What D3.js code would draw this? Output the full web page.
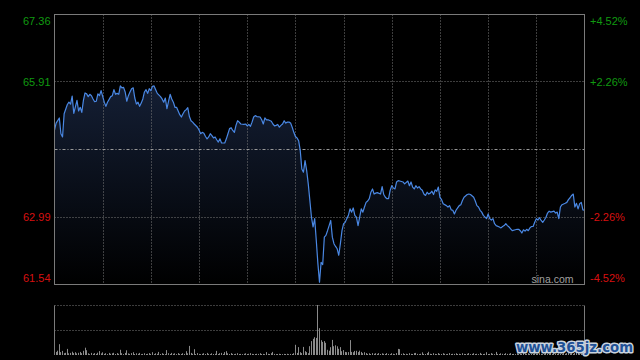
<!DOCTYPE html>
<html><head><meta charset="utf-8">
<script src="https://cdn.jsdelivr.net/npm/d3@7"></script>
<style>html,body{margin:0;padding:0;background:#000;overflow:hidden}svg{display:block}</style>
</head><body><svg id="c" width="640" height="360"></svg>
<script>
// minutes since 09:30 (HK session: 09:30-12:00, 13:00-16:00 => 330 trading minutes)
const minutes=[0,1,3,4,5,6,8,9,10,11,12,14,15,16,17,18,19,20,21,22,23,24,25,26,27,28,29,31,32,33,35,36,37,38,39,40,41,42,43,44,45,46,47,48,49,50,51,52,53,54,55,56,57,58,59,60,61,62,63,64,66,67,68,69,70,71,72,73,74,75,76,77,78,79,80,81,82,83,84,85,86,87,89,90,91,92,93,94,95,96,97,98,99,100,101,102,103,104,106,107,108,109,110,111,112,113,114,115,116,118,119,120,121,122,123,124,125,126,128,129,130,131,132,133,135,136,137,138,139,140,141,142,143,144,145,146,147,148,149,150,151,152,153,154,155,156,157,158,159,160,161,162,163,164,165,166,167,168,169,170,171,172,173,174,175,176,177,178,179,180,181,182,183,184,185,186,187,188,189,190,191,192,193,194,195,196,197,198,199,200,201,203,204,205,206,207,208,209,210,211,212,213,214,215,217,218,220,221,222,223,224,225,226,227,228,229,230,231,232,233,234,235,236,237,238,239,240,241,242,244,245,246,247,248,249,250,251,252,253,254,255,257,258,259,261,262,263,264,265,266,267,269,270,271,272,273,274,275,277,278,279,280,281,282,283,284,285,287,288,289,290,291,292,293,294,295,296,297,298,299,300,301,302,303,304,305,306,307,308,309,311,312,313,314,315,316,318,319,320,321,322,323,324,325,326,327,328,329,330];
const prices=[64.87,65.02,65.13,64.79,64.72,65.22,65.42,65.47,65.43,65.60,65.23,65.51,65.28,65.36,65.25,65.51,65.67,65.65,65.59,65.64,65.61,65.54,65.48,65.49,65.65,65.61,65.72,65.47,65.38,65.47,65.59,65.61,65.74,65.64,65.66,65.64,65.82,65.78,65.79,65.69,65.49,65.61,65.69,65.76,65.78,65.56,65.43,65.47,65.38,65.45,65.54,65.69,65.74,65.66,65.76,65.72,65.81,65.82,65.74,65.66,65.59,65.54,65.47,65.56,65.33,65.49,65.64,65.54,65.47,65.36,65.36,65.28,65.20,65.15,65.22,65.28,65.31,65.35,65.16,65.07,65.04,65.00,64.93,64.87,64.79,64.82,64.80,64.73,64.68,64.72,64.79,64.75,64.70,64.72,64.66,64.61,64.68,64.59,64.59,64.68,64.79,64.90,64.92,64.86,64.82,64.97,65.07,65.04,65.00,64.99,65.00,64.96,64.99,64.95,65.04,65.15,65.18,65.16,65.15,65.09,65.00,65.13,65.09,65.09,65.06,65.00,64.96,64.97,64.99,64.93,64.97,65.00,65.07,65.02,65.04,65.04,65.02,64.93,64.82,64.73,64.70,64.64,64.43,64.03,63.96,64.21,64.00,63.71,63.35,62.99,62.78,62.96,62.49,61.99,61.59,62.02,61.97,62.56,62.60,62.70,62.81,62.92,62.56,62.42,62.36,62.31,62.17,62.42,62.70,62.85,62.88,62.96,63.03,63.17,63.10,63.19,63.03,62.99,62.81,62.99,63.17,63.10,63.21,63.31,63.34,63.39,63.53,63.60,63.49,63.51,63.52,63.49,63.65,63.48,63.42,63.39,63.39,63.57,63.67,63.62,63.60,63.75,63.78,63.77,63.75,63.71,63.77,63.67,63.75,63.64,63.60,63.67,63.62,63.65,63.60,63.57,63.49,63.46,63.53,63.49,63.51,63.55,63.48,63.58,63.55,63.64,63.42,63.37,63.28,63.24,63.21,63.24,63.15,63.14,63.06,63.14,63.19,63.24,63.26,63.35,63.42,63.48,63.49,63.48,63.42,63.34,63.24,63.21,63.14,63.10,63.03,62.96,63.06,62.96,62.93,62.96,62.85,62.81,62.78,62.76,62.79,62.81,62.85,62.81,62.78,62.74,62.70,62.72,62.73,62.73,62.70,62.65,62.72,62.69,62.73,62.70,62.76,62.79,62.79,62.88,62.96,62.93,62.98,62.92,62.88,62.93,62.99,63.08,63.12,63.10,63.12,63.08,63.10,62.96,63.21,63.26,63.29,63.31,63.37,63.41,63.46,63.49,63.21,63.29,63.17,63.28,63.31,63.15,63.14];
// volume per minute (index = minute)
const volumes=[52,31,43,108,29,41,18,22,61,17,
21,33,19,28,16,22,31,18,42,73,
48,17,9,21,12,19,11,23,39,16,
27,11,18,9,21,12,17,22,10,19,
12,52,18,9,21,47,16,11,19,28,
10,17,12,21,9,11,18,10,12,19,
11,28,9,17,12,31,10,18,11,9,
49,18,10,21,12,17,9,19,11,10,
18,11,38,17,91,21,12,58,10,19,
11,9,12,18,10,21,11,9,17,10,
12,41,10,18,21,11,29,38,17,10,
19,11,9,12,18,10,11,9,12,17,
10,12,19,11,9,10,12,11,18,10,
11,9,29,12,10,18,31,11,9,10,
12,10,9,11,10,12,9,11,10,18,
102,21,79,28,19,81,38,29,18,88,
139,162,178,171,500,268,148,131,139,122,
52,43,78,151,88,97,87,62,79,38,
49,31,28,29,149,31,28,41,42,29,
43,31,18,28,19,11,17,10,19,12,
18,11,19,10,17,12,10,19,11,9,
18,12,9,19,61,58,11,17,10,12,
9,18,11,10,19,21,11,9,12,27,
11,10,19,32,12,10,18,11,9,19,
11,10,18,12,9,11,19,10,12,11,
17,10,12,9,18,11,10,12,19,9,
11,18,10,12,9,21,11,10,12,28,
10,11,19,12,9,31,11,10,17,12,
10,18,11,12,19,10,11,9,18,12,
11,10,19,12,9,18,11,10,12,19,
10,11,18,12,9,11,19,10,12,18,
11,19,10,12,18,11,9,19,12,18,
21,12,18,11,19,29,21,12,18,31,
42];
const priceTicks=[61.54,62.99,65.91,67.36];
const pctTicks=[-4.52,-2.26,2.26,4.52];
const prevClose=64.45;
const gridMinutes=[30,60,90,120,150,180,210,240,270,300];

const svg=d3.select("#c");
const L=54.5,R=584.5,T=14.5,B=284.5;
const VT=305.5,VM=330.5,VB=355;
const font="'Liberation Sans', Arial, sans-serif";
const GREEN="#109a10", RED="#d81010";

svg.append("rect").attr("width",640).attr("height",360).attr("fill","#000");

const x=d3.scaleLinear().domain([0,330]).range([L,R]);
const y=d3.scaleLinear().domain([61.54,67.36]).range([B,T]);
const yPct=d3.scaleLinear().domain([-4.52,4.52]).range([B,T]);
const yV=d3.scaleLinear().domain([0,d3.max(volumes)]).range([VB,VT-0.5]);

const data=minutes.map((m,i)=>({m,p:prices[i]}));

// gradient
const defs=svg.append("defs");
const g=defs.append("linearGradient").attr("id","fillg").attr("gradientUnits","userSpaceOnUse")
  .attr("x1",0).attr("x2",0).attr("y1",T).attr("y2",B);
g.append("stop").attr("offset","0").attr("stop-color","#1b2946");
g.append("stop").attr("offset","1").attr("stop-color","#000000");

// area
svg.append("path").datum(data)
  .attr("d",d3.area().x(d=>x(d.m)).y0(B).y1(d=>y(d.p)))
  .attr("fill","url(#fillg)");

// grid
const grid=svg.append("g").attr("stroke","#7a7a7a").attr("stroke-width",1).attr("stroke-dasharray","1,2");
grid.selectAll("line.v").data(gridMinutes).enter().append("line")
  .attr("x1",d=>Math.round(x(d))+0.5).attr("x2",d=>Math.round(x(d))+0.5)
  .attr("y1",T).attr("y2",B);
grid.selectAll("line.h").data([65.91,62.99]).enter().append("line")
  .attr("x1",L).attr("x2",R)
  .attr("y1",d=>Math.floor(y(d))+0.5).attr("y2",d=>Math.floor(y(d))+0.5);
// previous close
svg.append("line").attr("x1",L).attr("x2",R)
  .attr("y1",Math.floor(y(prevClose))+0.5).attr("y2",Math.floor(y(prevClose))+0.5)
  .attr("stroke","#9a9a9a").attr("stroke-dasharray","3,2,1,2");

// price line
svg.append("path").datum(data)
  .attr("d",d3.line().x(d=>x(d.m)).y(d=>y(d.p)))
  .attr("fill","none").attr("stroke","#4a88e4").attr("stroke-width",1.2).attr("stroke-linejoin","round");

// border
svg.append("rect").attr("x",L).attr("y",T).attr("width",R-L).attr("height",B-T)
  .attr("fill","none").attr("stroke","#7a7a7a");

// axes
const ax=svg.append("g").attr("transform",`translate(${L},0)`)
  .call(d3.axisLeft(y).tickValues(priceTicks).tickSize(0).tickPadding(4).tickFormat(d3.format(".2f")));
const ax2=svg.append("g").attr("transform",`translate(${R},0)`)
  .call(d3.axisRight(yPct).tickValues(pctTicks).tickSize(0).tickPadding(5.5)
    .tickFormat(d=>(d>0?"+":"")+d.toFixed(2)+"%"));
[ax,ax2].forEach(a=>{
  a.select(".domain").remove();
  a.selectAll("text").attr("font-family",font).attr("font-size",11)
    .attr("fill",d=>d>prevClose||(d>0&&d<10)?GREEN:RED)
    .attr("dy",(d,i)=>{const top=(d===67.36||d===4.52),bot=(d===61.54||d===-4.52);return top?"9.5px":bot?"-3px":"3.6px";});
});

// sina.com
svg.append("text").attr("x",573.5).attr("y",282.5).attr("text-anchor","end")
  .attr("font-family",font).attr("font-size",10.5).attr("fill","#a0a0a0").text("sina.com");

// volume panel
const vg=svg.append("g");
vg.selectAll("rect").data(volumes).enter().append("rect")
  .attr("x",(d,i)=>Math.floor(x(i)))
  .attr("width",1)
  .attr("y",d=>yV(d)).attr("height",d=>VB-yV(d))
  .attr("fill","#8a8a8a");
svg.append("g").attr("stroke","#7a7a7a").attr("stroke-dasharray","1,2")
  .selectAll("line").data([VT,VM]).enter().append("line")
  .attr("x1",L).attr("x2",R).attr("y1",d=>d).attr("y2",d=>d);
svg.append("g").attr("stroke","#7a7a7a")
  .selectAll("line").data([L,R]).enter().append("line")
  .attr("x1",d=>d).attr("x2",d=>d).attr("y1",VT).attr("y2",VB);

// watermark
svg.append("text").attr("x",516).attr("y",352).attr("font-family","'DejaVu Sans', Verdana, sans-serif")
  .attr("font-weight","bold").attr("font-size",13.5).attr("textLength",117).attr("lengthAdjust","spacingAndGlyphs")
  .attr("fill","#1f5196").attr("stroke","#c9d3de").attr("stroke-width",3).attr("paint-order","stroke")
  .attr("stroke-linejoin","round").text("www.365jz.com");
</script></body></html>
